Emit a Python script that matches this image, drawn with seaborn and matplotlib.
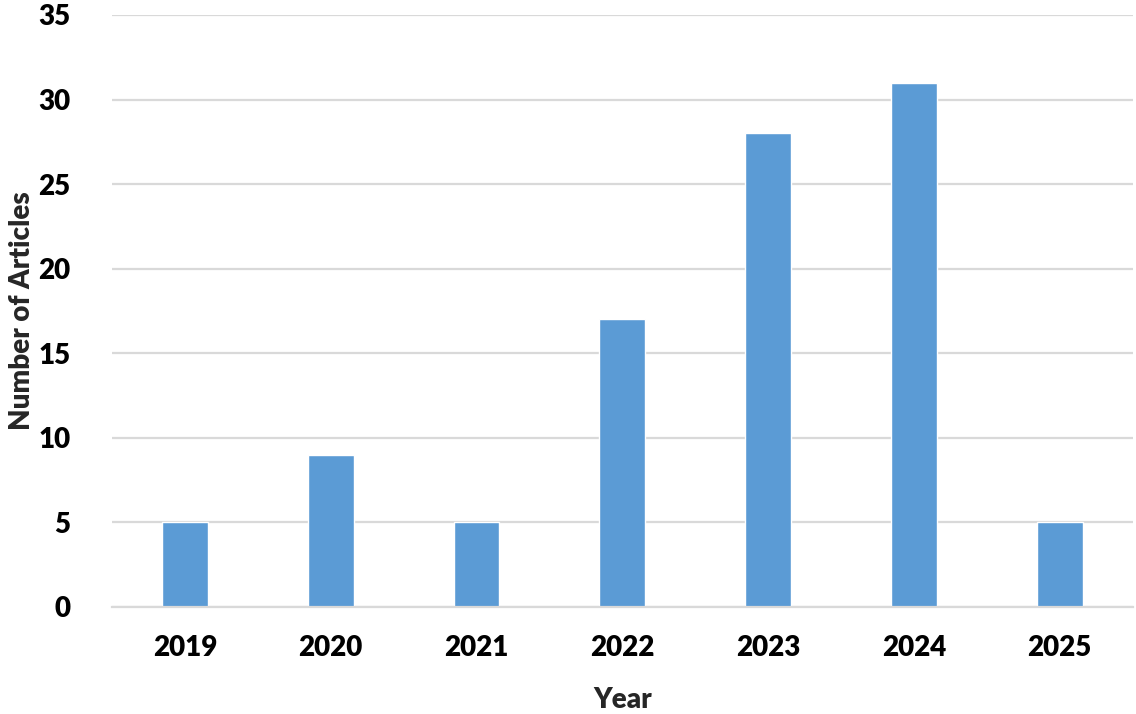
import matplotlib
matplotlib.use("Agg")
import matplotlib.pyplot as plt
import seaborn as sns
import pandas as pd

years = ["2019", "2020", "2021", "2022", "2023", "2024", "2025"]
articles = [5, 9, 5, 17, 28, 31, 5]

sns.set_theme(style="whitegrid")
plt.rcParams["font.family"] = ["Lato", "DejaVu Sans"]
plt.rcParams["font.weight"] = "bold"

df = pd.DataFrame({"Year": years, "Articles": articles})

fig = plt.figure(figsize=(11.36, 7.14), dpi=100)
ax = fig.add_axes([0.0986, 0.1499, 0.8984, 0.8291])

sns.barplot(data=df, x="Year", y="Articles", color="#5B9BD5", saturation=1,
            width=0.313, ax=ax)

ax.set_xlim(-0.5, 6.5)
ax.set_ylim(0, 35)
ax.set_yticks(range(0, 36, 5))
ax.grid(True, axis="y", color="#D9D9D9", linewidth=1.6)
ax.grid(False, axis="x")
for side in ["top", "right", "left"]:
    ax.spines[side].set_visible(False)
ax.spines["bottom"].set_color("#D9D9D9")
ax.spines["bottom"].set_linewidth(1.6)
ax.set_axisbelow(True)

ax.tick_params(axis="both", length=0, labelsize=20, colors="black")
ax.tick_params(axis="x", pad=20)
ax.tick_params(axis="y", pad=30)
for lbl in ax.get_xticklabels() + ax.get_yticklabels():
    lbl.set_fontweight("heavy")

ax.set_xlabel("Year", fontsize=20, fontweight="heavy", labelpad=19)
ax.set_ylabel("Number of Articles", fontsize=20, fontweight="heavy", labelpad=2)

fig.savefig("out.png", dpi=100)
